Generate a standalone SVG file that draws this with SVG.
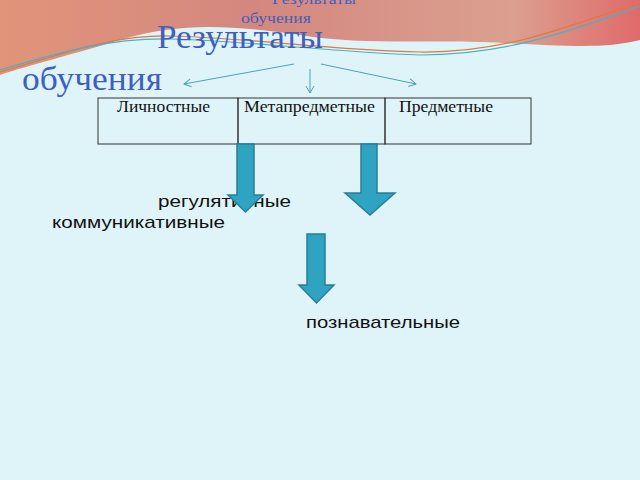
<svg xmlns="http://www.w3.org/2000/svg" width="640" height="480" viewBox="0 0 640 480">
<defs>
<linearGradient id="wg" x1="0" y1="0" x2="1" y2="0"><stop offset="0" stop-color="#e0957a"/><stop offset="0.4" stop-color="#d4877f"/><stop offset="0.8" stop-color="#dba090"/><stop offset="1" stop-color="#e06a6a"/></linearGradient>
<marker id="ah" markerWidth="10" markerHeight="10" refX="8" refY="5" orient="auto" markerUnits="userSpaceOnUse"><path d="M1,1 L8,5 L1,9" fill="none" stroke="#4aa3b5" stroke-width="1"/></marker>
<style>
.cell{fill:none;stroke:#333;stroke-width:1}
.blk{fill:#2ea3c2;stroke:#2a7f96;stroke-width:1.5}
.ser{font-family:"Liberation Serif",serif;fill:#111;font-size:16px}
.blue{font-family:"Liberation Serif",serif;fill:#3f5fbf}
.sans{font-family:"Liberation Sans",sans-serif;fill:#111;font-size:17px}
.con{stroke:#4aa3b5;stroke-width:1;fill:none}
</style>
</defs>
<rect width="640" height="480" fill="#dff4f9"/>
<path d="M0,0 H640 V40 C600,50 560,45 480,42 C420,40 360,45 300,35 C230,25 180,22 120,40 C70,55 30,65 0,75 Z" fill="url(#wg)"/>
<path d="M0,72 C60,55 110,35 170,36 C250,38 330,50 420,52 C500,53 560,30 640,2" fill="none" stroke="#e07840" stroke-width="1.2"/>
<path d="M0,70 C60,52 110,38 170,39 C250,41 330,52 420,55 C500,55 560,35 640,6" fill="none" stroke="#4ab0c8" stroke-width="1.2"/>
<text class="blue" x="272" y="4" font-size="15" textLength="84" lengthAdjust="spacingAndGlyphs">Результаты</text>
<text class="blue" x="241" y="23" font-size="15" textLength="70" lengthAdjust="spacingAndGlyphs">обучения</text>
<text class="blue" x="157" y="48" font-size="34" textLength="166" lengthAdjust="spacingAndGlyphs">Результаты</text>
<text class="blue" x="22" y="90" font-size="34" textLength="140" lengthAdjust="spacingAndGlyphs">обучения</text>
<g id="connectors">
<line class="con" x1="294" y1="64" x2="184" y2="84" marker-end="url(#ah)"/>
<line class="con" x1="310" y1="69" x2="310" y2="93" marker-end="url(#ah)"/>
<line class="con" x1="321" y1="64" x2="416" y2="84" marker-end="url(#ah)"/>
</g>
<g id="cell1"><rect class="cell" x="98" y="98" width="140" height="46"/><text class="ser" x="117" y="112" textLength="93" lengthAdjust="spacingAndGlyphs">Личностные</text></g>
<g id="cell2"><rect class="cell" x="238" y="98" width="147" height="46"/><text class="ser" x="244" y="112" textLength="131" lengthAdjust="spacingAndGlyphs">Метапредметные</text></g>
<g id="cell3"><rect class="cell" x="385" y="98" width="146" height="46"/><text class="ser" x="399" y="112" textLength="94" lengthAdjust="spacingAndGlyphs">Предметные</text></g>
<g id="t1"><text class="sans" x="158" y="207" textLength="133" lengthAdjust="spacingAndGlyphs">регулятивные</text><text class="sans" x="52" y="228" textLength="173" lengthAdjust="spacingAndGlyphs">коммуникативные</text></g>
<g id="a1"><path class="blk" d="M237,144 H254 V195 H263 L245.5,212 L228,195 H237 Z"/></g>
<g id="a2"><path class="blk" d="M361,144 H377 V193 H395 L370,215 L345,193 H361 Z"/></g>
<g id="a3"><path class="blk" d="M307,234 H325 V285 H334 L316.5,303 L299,285 H307 Z"/></g>
<text class="sans" x="306" y="328" textLength="154" lengthAdjust="spacingAndGlyphs">познавательные</text>
</svg>
